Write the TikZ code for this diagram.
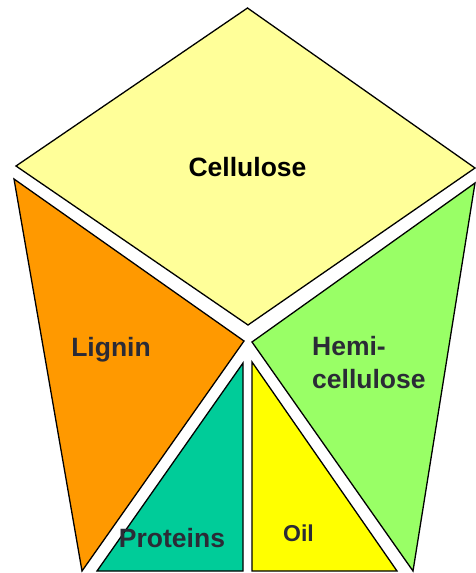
\documentclass[tikz,border=0pt]{standalone}
\usepackage{fontspec}
\setmainfont{Liberation Sans}
\definecolor{cellc}{HTML}{FFFF99}
\definecolor{lignc}{HTML}{FF9900}
\definecolor{hemic}{HTML}{99FF66}
\definecolor{protc}{HTML}{00CC99}
\definecolor{oilc}{HTML}{FFFF00}
\definecolor{labelgray}{HTML}{2B2B36}
\begin{document}
\begin{tikzpicture}[x=1pt,y=-1pt,
  piece/.style={draw=black, line width=1.3pt, line join=miter},
  lbl/.style={font=\bfseries\fontsize{26.5}{31}\selectfont, text=labelgray, inner sep=0pt}]
\useasboundingbox (0,0) rectangle (475,573);
% Cellulose
\filldraw[piece, fill=cellc] (247.5,8) -- (475,168) -- (248,325) -- (16,166) -- cycle;
% Lignin
\filldraw[piece, fill=lignc] (14,179) -- (244,341) -- (82,571) -- cycle;
% Hemicellulose
\filldraw[piece, fill=hemic] (475,183) -- (413,571) -- (252,342) -- cycle;
% Proteins
\filldraw[piece, fill=protc] (243,363) -- (243,571) -- (97,571) -- cycle;
% Oil
\filldraw[piece, fill=oilc] (252,362) -- (397,571) -- (252,571) -- cycle;
% labels
\node[lbl, text=black, anchor=base] (tcell) at (247.5,176) {Cellulose};
\node[lbl, anchor=base] (tlig) at (111,356) {Lignin};
\node[lbl, anchor=base west] (themi) at (312,355) {Hemi-};
\node[lbl, anchor=base west] (themb) at (312,388) {cellulose};
\node[lbl, anchor=base] (tprot) at (172,547) {Proteins};
\node[lbl, font=\bfseries\fontsize{23}{27}\selectfont, anchor=base] (toil) at (298.5,541) {Oil};
\end{tikzpicture}
\end{document}
